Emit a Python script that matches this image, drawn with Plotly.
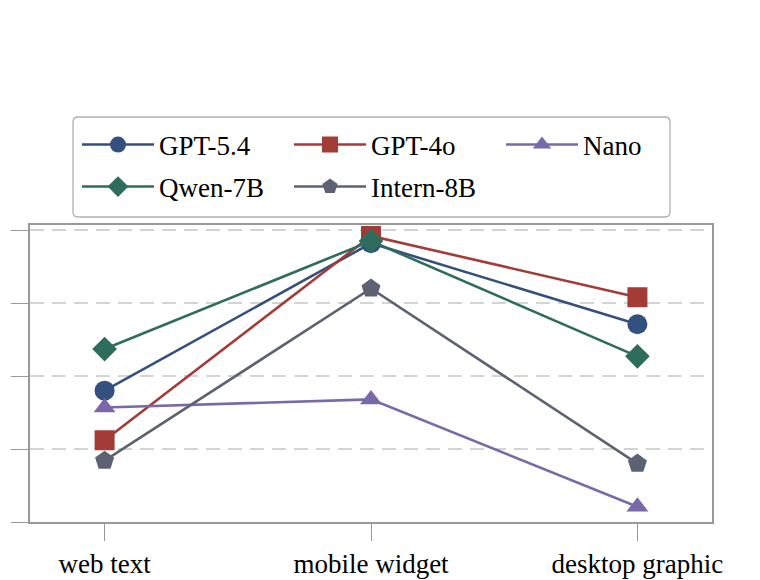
import plotly.graph_objects as go

categories = ["web text", "mobile widget", "desktop graphic"]
models = ["GPT-5.4", "GPT-4o", "Nano", "Qwen-7B", "Intern-8B"]
gpt54 = [18.0, 38.2, 27.1]
gpt4o = [11.2, 39.2, 30.8]
nano = [15.7, 16.8, 2.1]
qwen7b = [23.7, 38.5, 22.7]
intern8b = [8.4, 32.0, 8.0]
y_ticks = [0, 10, 20, 30, 40]

series = [gpt54, gpt4o, nano, qwen7b, intern8b]
colors = ["#33507f", "#a33b37", "#7a69a8", "#2e6d5d", "#5d6272"]
symbols = ["circle", "square", "triangle-up", "diamond", "pentagon"]
sizes = [20, 20, 19, 19, 20]
legend_ids = ["legend", "legend", "legend", "legend2", "legend2"]

FONT = "'Times New Roman', Times, Tinos, 'Liberation Serif', 'Noto Serif', FreeSerif, 'DejaVu Serif', serif"
FS = 27
xs = list(range(len(categories)))

fig = go.Figure()
for name, vals, c, s, sz, lg in zip(models, series, colors, symbols, sizes, legend_ids):
    fig.add_trace(go.Scatter(
        x=xs, y=vals, name=name, mode="lines+markers", legend=lg,
        line=dict(color=c, width=2.6),
        marker=dict(color=c, symbol=s, size=sz, line=dict(width=0)),
    ))

W, H = 760, 580
ML, MR, MT, MB = 30, 48, 225, 58
PW, PH = W - ML - MR, H - MT - MB


def px_x(p):
    return (p - ML) / PW


def px_y(p):
    return (H - MB - p) / PH


leg_common = dict(
    orientation="h", xanchor="left", yanchor="middle",
    borderwidth=0, bgcolor="rgba(0,0,0,0)",
    font=dict(family=FONT, size=FS, color="black"),
    itemwidth=72, entrywidth=125, traceorder="normal",
)

# rounded legend frame
x0, x1, y0, y1, r = 73, 670, 117, 217, 5
path = (
    f"M {x0 + r},{y0} L {x1 - r},{y0} Q {x1},{y0} {x1},{y0 + r} "
    f"L {x1},{y1 - r} Q {x1},{y1} {x1 - r},{y1} L {x0 + r},{y1} "
    f"Q {x0},{y1} {x0},{y1 - r} L {x0},{y0 + r} Q {x0},{y0} {x0 + r},{y0} Z"
)

fig.update_layout(
    width=W, height=H,
    margin=dict(l=ML, r=MR, t=MT, b=MB),
    paper_bgcolor="white", plot_bgcolor="white",
    font=dict(family=FONT, size=FS, color="black"),
    showlegend=True,
    legend=dict(x=px_x(77), y=px_y(145), **leg_common),
    legend2=dict(x=px_x(77), y=px_y(187), **leg_common),
    shapes=[dict(
        type="path", xref="x domain", yref="y domain",
        path=" ".join(
            tok if not ("," in tok) else
            f"{px_x(float(tok.split(',')[0]))},{px_y(float(tok.split(',')[1]))}"
            for tok in path.split()
        ),
        line=dict(color="#b0b0b0", width=1.3), fillcolor="white", layer="below",
    )],
    xaxis=dict(
        tickmode="array", tickvals=xs, ticktext=categories,
        range=[-0.28, 2.28], showgrid=False, zeroline=False, automargin=False,
        showline=True, mirror=True, linecolor="#999999", linewidth=1.5,
        ticks="outside", ticklen=17, tickcolor="#999999", tickwidth=1.2,
        tickfont=dict(family=FONT, size=FS, color="black"),
    ),
    yaxis=dict(
        range=[0, 40.7], tickmode="array", tickvals=y_ticks, automargin=False,
        showticklabels=False, showgrid=True, gridcolor="#d4d4d4",
        griddash="14px,8px", gridwidth=1.5, zeroline=False,
        showline=True, mirror=True, linecolor="#999999", linewidth=1.5,
        ticks="outside", ticklen=17, tickcolor="#999999", tickwidth=1.2,
    ),
)

fig.write_html("out.html")
